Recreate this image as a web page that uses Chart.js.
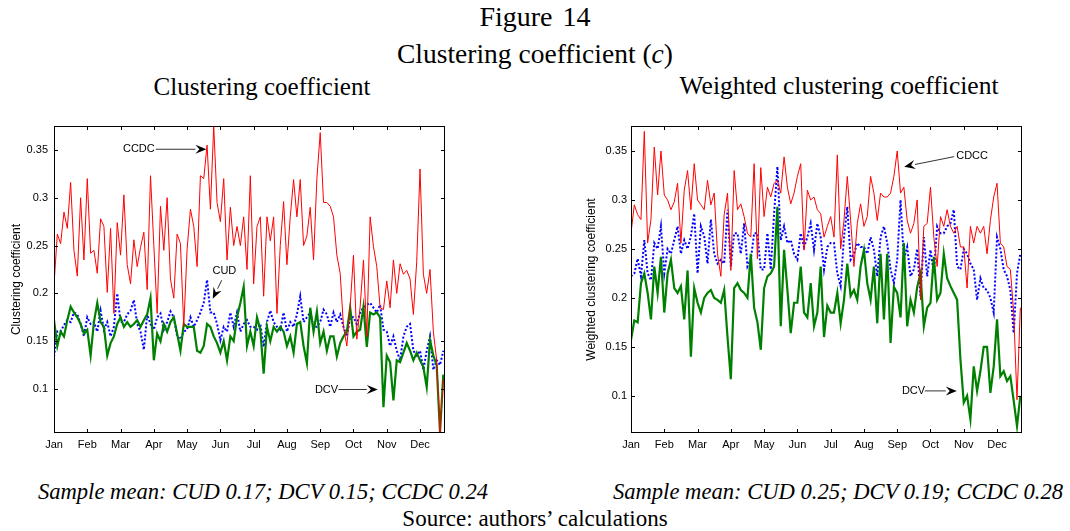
<!DOCTYPE html>
<html>
<head>
<meta charset="utf-8">
<script src="https://cdn.jsdelivr.net/npm/chart.js@4/dist/chart.umd.min.js"></script>
<style>
body{margin:0;background:#fff;width:1070px;height:531px;position:relative;overflow:hidden;font-family:"Liberation Serif",serif;color:#000}
.txt{position:absolute;transform:translate(-50%,-50%);white-space:nowrap;line-height:1}
canvas{position:absolute}
</style>
</head>
<body>

<div class="txt" style="left:535px;top:17px;font-size:28px;word-spacing:3px">Figure 14</div>
<div class="txt" style="left:535px;top:54px;font-size:27.5px">Clustering coefficient (<i>c</i>)</div>
<div class="txt" style="left:262px;top:86px;font-size:25px">Clustering coefficient</div>
<div class="txt" style="left:839px;top:86px;font-size:25.5px">Weighted clustering coefficient</div>

<canvas id="leftChart" width="460" height="350" style="left:0;top:110px"></canvas>
<canvas id="rightChart" width="470" height="350" style="left:570px;top:110px"></canvas>

<div class="txt" style="left:263px;top:492px;font-size:22.6px"><i>Sample mean: CUD 0.17; DCV 0.15; CCDC 0.24</i></div>
<div class="txt" style="left:838px;top:492px;font-size:22.6px"><i>Sample mean: CUD 0.25; DCV 0.19; CCDC 0.28</i></div>
<div class="txt" style="left:535px;top:518px;font-size:23px">Source: authors’ calculations</div>

<script>
/* ---------------- DATA ---------------- */

// one point every tenth of a month, starting at the beginning of January
const step = 0.1

const monthNames = ["Jan","Feb","Mar","Apr","May","Jun","Jul","Aug","Sep","Oct","Nov","Dec"]
const yTicks = [0.1,0.15,0.2,0.25,0.3,0.35]

// Clustering coefficient
const leftCCDC = [
0.209,0.262,0.252,0.285,0.268,0.316,0.245,0.218,0.300,0.235,
0.320,0.242,0.245,0.221,0.278,0.270,0.201,0.268,0.179,0.274,
0.240,0.303,0.230,0.210,0.256,0.228,0.248,0.264,0.204,0.323,
0.250,0.179,0.291,0.245,0.300,0.215,0.195,0.262,0.252,0.165,
0.246,0.288,0.270,0.228,0.323,0.320,0.355,0.288,0.375,0.295,
0.275,0.320,0.235,0.290,0.250,0.270,0.250,0.280,0.225,0.323,
0.210,0.270,0.280,0.197,0.280,0.255,0.280,0.179,0.250,0.296,
0.230,0.280,0.319,0.280,0.319,0.250,0.260,0.290,0.235,0.320,
0.368,0.295,0.295,0.291,0.280,0.240,0.221,0.165,0.145,0.186,
0.240,0.152,0.186,0.235,0.155,0.280,0.249,0.228,0.185,0.183,
0.213,0.185,0.235,0.200,0.231,0.220,0.224,0.215,0.178,0.233,
0.330,0.220,0.200,0.225,0.160,0.130,0.055,0.110]

const leftCUD = [
0.134,0.160,0.160,0.167,0.172,0.170,0.180,0.178,0.168,0.155,
0.175,0.168,0.170,0.160,0.182,0.162,0.170,0.155,0.165,0.200,
0.170,0.170,0.178,0.182,0.193,0.168,0.160,0.141,0.178,0.168,
0.162,0.175,0.179,0.162,0.170,0.181,0.175,0.155,0.152,0.160,
0.162,0.175,0.165,0.172,0.180,0.190,0.214,0.180,0.180,0.168,
0.151,0.165,0.160,0.180,0.165,0.180,0.160,0.168,0.172,0.165,
0.165,0.162,0.168,0.144,0.170,0.182,0.170,0.165,0.162,0.180,
0.160,0.170,0.165,0.178,0.197,0.170,0.175,0.180,0.165,0.165,
0.170,0.183,0.178,0.165,0.180,0.170,0.178,0.165,0.155,0.175,
0.175,0.168,0.180,0.185,0.188,0.190,0.185,0.180,0.188,0.162,
0.160,0.145,0.155,0.140,0.130,0.155,0.165,0.168,0.140,0.135,
0.140,0.120,0.140,0.155,0.120,0.130,0.125,0.140]

const leftDCV = [
0.172,0.145,0.160,0.155,0.172,0.186,0.180,0.175,0.168,0.158,
0.162,0.135,0.170,0.190,0.170,0.165,0.135,0.148,0.155,0.168,
0.175,0.165,0.170,0.165,0.168,0.172,0.165,0.172,0.178,0.195,
0.130,0.158,0.150,0.168,0.160,0.170,0.175,0.158,0.140,0.168,
0.165,0.165,0.165,0.140,0.138,0.145,0.168,0.165,0.155,0.148,
0.138,0.150,0.130,0.155,0.150,0.175,0.190,0.207,0.145,0.160,
0.145,0.175,0.162,0.116,0.165,0.150,0.165,0.160,0.165,0.160,
0.145,0.155,0.138,0.168,0.170,0.145,0.127,0.185,0.160,0.181,
0.148,0.160,0.140,0.155,0.155,0.134,0.148,0.155,0.160,0.185,
0.155,0.160,0.162,0.186,0.144,0.180,0.178,0.180,0.175,0.081,
0.135,0.128,0.088,0.130,0.128,0.138,0.148,0.140,0.130,0.138,
0.130,0.123,0.102,0.151,0.135,0.125,0.055,0.115]

// Weighted clustering coefficient
const rightCDCC = [
0.266,0.295,0.285,0.280,0.370,0.256,0.280,0.354,0.305,0.350,
0.305,0.300,0.290,0.298,0.317,0.256,0.310,0.330,0.290,0.337,
0.300,0.295,0.290,0.320,0.295,0.307,0.245,0.222,0.285,0.307,
0.228,0.330,0.290,0.296,0.283,0.266,0.262,0.337,0.240,0.333,
0.283,0.313,0.303,0.317,0.320,0.307,0.344,0.313,0.296,0.307,
0.324,0.337,0.249,0.310,0.300,0.303,0.290,0.286,0.262,0.273,
0.283,0.262,0.346,0.250,0.279,0.324,0.279,0.232,0.276,0.296,
0.273,0.283,0.324,0.307,0.279,0.307,0.303,0.303,0.307,0.324,
0.350,0.307,0.313,0.279,0.266,0.276,0.300,0.198,0.273,0.276,
0.313,0.262,0.232,0.283,0.273,0.290,0.273,0.266,0.273,0.252,
0.252,0.210,0.273,0.256,0.273,0.266,0.273,0.245,0.279,0.303,
0.317,0.256,0.252,0.232,0.229,0.185,0.096,0.190]

const rightCUD = [
0.222,0.225,0.240,0.222,0.259,0.225,0.218,0.256,0.250,0.273,
0.225,0.250,0.245,0.259,0.273,0.245,0.259,0.250,0.263,0.286,
0.225,0.273,0.263,0.235,0.280,0.245,0.235,0.239,0.235,0.290,
0.232,0.266,0.266,0.245,0.276,0.232,0.239,0.266,0.266,0.229,
0.229,0.266,0.229,0.286,0.334,0.259,0.273,0.256,0.259,0.245,
0.239,0.266,0.252,0.262,0.276,0.249,0.276,0.262,0.229,0.252,
0.256,0.256,0.225,0.212,0.262,0.293,0.239,0.245,0.256,0.252,
0.252,0.245,0.262,0.249,0.222,0.262,0.273,0.256,0.229,0.215,
0.239,0.300,0.239,0.252,0.222,0.229,0.250,0.202,0.262,0.222,
0.249,0.225,0.273,0.266,0.266,0.273,0.276,0.290,0.232,0.229,
0.250,0.245,0.235,0.229,0.198,0.220,0.210,0.208,0.200,0.185,
0.262,0.250,0.229,0.222,0.208,0.164,0.225,0.245]

const rightDCV = [
0.157,0.177,0.175,0.215,0.225,0.205,0.178,0.232,0.205,0.242,
0.185,0.225,0.239,0.210,0.205,0.212,0.178,0.228,0.140,0.210,
0.195,0.185,0.200,0.205,0.208,0.200,0.198,0.195,0.208,0.160,
0.117,0.210,0.215,0.208,0.205,0.200,0.245,0.190,0.175,0.147,
0.210,0.222,0.225,0.232,0.293,0.171,0.249,0.208,0.164,0.195,
0.195,0.232,0.185,0.180,0.215,0.171,0.185,0.232,0.160,0.192,
0.185,0.185,0.205,0.174,0.198,0.235,0.202,0.208,0.198,0.232,
0.249,0.215,0.198,0.232,0.174,0.245,0.178,0.245,0.154,0.211,
0.205,0.180,0.256,0.171,0.198,0.185,0.211,0.225,0.171,0.190,
0.195,0.242,0.198,0.205,0.245,0.220,0.212,0.205,0.198,0.137,
0.093,0.100,0.076,0.130,0.105,0.125,0.150,0.150,0.103,0.130,
0.178,0.120,0.125,0.115,0.120,0.095,0.069,0.100]


/* ---------------- HELPERS ---------------- */

const axisFont = {family:"Liberation Sans", size:11}
const titleFont = {family:"Liberation Sans", size:12}

function toPoints(values){
return values.map((v,i)=>({x:+(i*step).toFixed(2), y:v}))
}

function seriesSets(ccdc,cud,dcv){
return [
{data:toPoints(ccdc), borderColor:"#ff0000", borderWidth:1, order:0},
{data:toPoints(dcv), borderColor:"#008000", borderWidth:2.2, order:1},
{data:toPoints(cud), borderColor:"#0000ff", borderWidth:2, borderDash:[2,2], order:2}
]
}

// box round the plot, inward tick marks on all four sides, arrow notes
const boxAndNotes = {
id:"boxAndNotes",
afterDraw(chart,args,opts){
const {ctx, chartArea:a, scales:{x,y}} = chart
ctx.save()
ctx.strokeStyle = "#000"
ctx.lineWidth = 1
ctx.strokeRect(a.left+0.5, a.top+0.5, a.right-a.left-1, a.bottom-a.top-1)

const len = 4
ctx.beginPath()
x.ticks.forEach(t=>{
const px = Math.round(x.getPixelForValue(t.value))+0.5
ctx.moveTo(px,a.bottom); ctx.lineTo(px,a.bottom-len)
ctx.moveTo(px,a.top); ctx.lineTo(px,a.top+len)
})
y.ticks.forEach(t=>{
const py = Math.round(y.getPixelForValue(t.value))+0.5
ctx.moveTo(a.left,py); ctx.lineTo(a.left+len,py)
ctx.moveTo(a.right,py); ctx.lineTo(a.right-len,py)
})
ctx.stroke()

ctx.font = "11px 'Liberation Sans'"
ctx.textAlign = "center"
ctx.textBaseline = "middle"
opts.notes.forEach(n=>{
ctx.fillStyle = "#000"
ctx.fillText(n.text, x.getPixelForValue(n.at[0]), y.getPixelForValue(n.at[1]))

const x0 = x.getPixelForValue(n.from[0]), y0 = y.getPixelForValue(n.from[1])
const x1 = x.getPixelForValue(n.to[0]), y1 = y.getPixelForValue(n.to[1])
const ang = Math.atan2(y1-y0, x1-x0)
const c = Math.cos(ang), s = Math.sin(ang)
const L = 11, W = 4.5

ctx.strokeStyle = "#333"
ctx.beginPath()
ctx.moveTo(x0,y0); ctx.lineTo(x1-L*c, y1-L*s)
ctx.stroke()

ctx.beginPath()
ctx.moveTo(x1,y1)
ctx.lineTo(x1-L*c-W*s, y1-L*s+W*c)
ctx.lineTo(x1-(L-4)*c, y1-(L-4)*s)
ctx.lineTo(x1-L*c+W*s, y1-L*s-W*c)
ctx.closePath()
ctx.fill()
})
ctx.restore()
}
}

function makeChart(id,sets,o){
return new Chart(document.getElementById(id),{
type:"line",
data:{datasets:sets},
plugins:[boxAndNotes],
options:{
responsive:false,
animation:false,
events:[],
layout:{padding:{top:16, right:o.padRight, left:0, bottom:0}},
elements:{point:{radius:0}, line:{tension:0}},
plugins:{
legend:{display:false},
tooltip:{enabled:false},
boxAndNotes:{notes:o.notes}
},
scales:{
x:{
type:"linear", min:0, max:11.75,
grid:{display:false, drawTicks:false},
border:{display:false},
afterBuildTicks:s=>{ s.ticks = monthNames.map((m,i)=>({value:i})) },
afterFit:s=>{ s.height = 27 },
ticks:{callback:v=>monthNames[v], autoSkip:false, maxRotation:0, padding:5, color:"#000", font:axisFont}
},
y:{
type:"linear", min:o.yMin, max:o.yMax,
grid:{display:false, drawTicks:false},
border:{display:false},
afterBuildTicks:s=>{ s.ticks = yTicks.map(v=>({value:v})) },
afterFit:s=>{ s.width = o.axisWidth },
ticks:{callback:v=>String(v), padding:o.tickPad, color:"#000", font:axisFont},
title:{display:true, text:o.yTitle, color:"#000", font:titleFont, padding:{top:o.titlePad, bottom:0}}
}
}
}
})
}


/* ---------------- CHARTS ---------------- */

makeChart("leftChart", seriesSets(leftCCDC,leftCUD,leftDCV), {
yMin:0.054, yMax:0.375, axisWidth:54, padRight:15, tickPad:6, titlePad:9,
yTitle:"Clustering coefficient",
notes:[
{text:"CCDC", at:[2.55,0.3507], from:[3.06,0.3507], to:[4.58,0.3507]},
{text:"CUD", at:[5.12,0.2232], from:[5.04,0.2137], to:[4.77,0.1945]},
{text:"DCV", at:[8.19,0.0995], from:[8.55,0.0995], to:[9.73,0.0995]}
]
})

makeChart("rightChart", seriesSets(rightCDCC,rightCUD,rightDCV), {
yMin:0.062, yMax:0.3755, axisWidth:61, padRight:18, tickPad:4, titlePad:14,
yTitle:"Weighted clustering coefficient",
notes:[
{text:"CDCC", at:[10.25,0.3449], from:[9.71,0.3442], to:[8.21,0.334]},
{text:"DCV", at:[8.49,0.105], from:[8.83,0.105], to:[9.79,0.105]}
]
})
</script>
</body>
</html>
